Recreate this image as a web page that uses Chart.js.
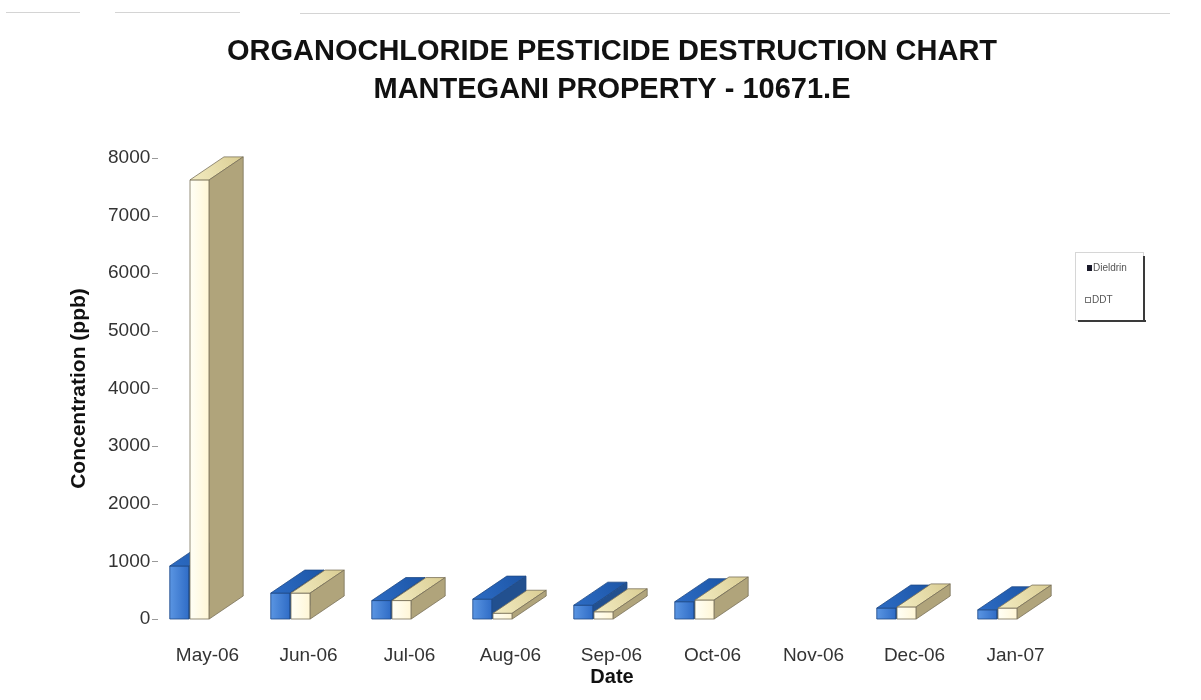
<!DOCTYPE html>
<html>
<head>
<meta charset="utf-8">
<script src="https://cdn.jsdelivr.net/npm/chart.js@4.4.1/dist/chart.umd.min.js"></script>
<style>
  html, body { margin: 0; padding: 0; background: #fff; }
  #wrap { width: 1201px; height: 700px; }
</style>
</head>
<body>
<div id="wrap"><canvas id="pestChart"></canvas></div>
<script>
const months = ['May-06', 'Jun-06', 'Jul-06', 'Aug-06', 'Sep-06', 'Oct-06', 'Nov-06', 'Dec-06', 'Jan-07'];
const dieldrin = [920, 450, 320, 345, 240, 300, null, 190, 160];
const ddt = [7620, 450, 320, 100, 125, 330, null, 210, 190];
const seriesNames = ['Dieldrin', 'DDT'];
const titleLines = ['ORGANOCHLORIDE PESTICIDE DESTRUCTION CHART', 'MANTEGANI PROPERTY - 10671.E'];

const FONT = '"Liberation Sans", Arial, Helvetica, sans-serif';
const DX = 34, DY = -23; // depth of the 3d extrusion

// face colours per series: front, top, side, outline
const faces = [
  { front: ['#5a95e2', '#2f6cc6'], top: ['#2d6cc4', '#1c55a6'], side: '#22508f', edge: '#1f4a86' },
  { front: ['#fffff6', '#fff6d6'], top: ['#f3ecc2', '#d9cc92'], side: '#b0a47b', edge: '#7a7159' }
];

function poly(ctx, pts, fill, edge) {
  ctx.beginPath();
  ctx.moveTo(pts[0][0], pts[0][1]);
  for (let k = 1; k < pts.length; k++) ctx.lineTo(pts[k][0], pts[k][1]);
  ctx.closePath();
  ctx.fillStyle = fill;
  ctx.fill();
  ctx.strokeStyle = edge;
  ctx.lineWidth = 0.8;
  ctx.stroke();
}

const bar3d = {
  id: 'bar3d',
  afterDatasetsDraw(chart) {
    const ctx = chart.ctx;
    ctx.save();
    chart.data.datasets.forEach((ds, i) => {
      const meta = chart.getDatasetMeta(i);
      const c = faces[i];
      meta.data.forEach((bar, j) => {
        if (ds.data[j] == null) return;
        const { x, y, base, width } = bar.getProps(['x', 'y', 'base', 'width'], true);
        const l = x - width / 2, r = x + width / 2;
        const g = ctx.createLinearGradient(l, 0, r, 0);
        g.addColorStop(0, c.front[0]);
        g.addColorStop(1, c.front[1]);
        poly(ctx, [[l, y], [r, y], [r, base], [l, base]], g, c.edge);
        const gt = ctx.createLinearGradient(l, y, r + DX, y + DY);
        gt.addColorStop(0, c.top[0]);
        gt.addColorStop(1, c.top[1]);
        poly(ctx, [[l, y], [r, y], [r + DX, y + DY], [l + DX, y + DY]], gt, c.edge);
        poly(ctx, [[r, y], [r + DX, y + DY], [r + DX, base + DY], [r, base]], c.side, c.edge);
      });
    });
    ctx.restore();
  }
};

const extras = {
  id: 'extras',
  afterDraw(chart) {
    const ctx = chart.ctx;
    const ys = chart.scales.y;
    ctx.save();
    // small tick dashes beside the value labels
    ctx.strokeStyle = '#9a9a9a';
    ctx.lineWidth = 1;
    ys.ticks.forEach(t => {
      const py = Math.round(ys.getPixelForValue(t.value)) + 0.5;
      ctx.beginPath();
      ctx.moveTo(152, py);
      ctx.lineTo(158, py);
      ctx.stroke();
    });
    // faint scan line along the top
    ctx.strokeStyle = '#d4d4d4';
    ctx.beginPath();
    ctx.moveTo(6, 12.5); ctx.lineTo(80, 12.5);
    ctx.moveTo(115, 12.5); ctx.lineTo(240, 12.5);
    ctx.moveTo(300, 13.5); ctx.lineTo(1170, 13.5);
    ctx.stroke();

    // legend box with shadow
    const lx = 1075, ly = 252, lw = 68, lh = 68;
    ctx.strokeStyle = '#d6d6d6';
    ctx.strokeRect(lx + 0.5, ly + 0.5, lw, lh);
    ctx.fillStyle = '#3a3a3a';
    ctx.fillRect(lx + lw, ly + 4, 2, lh - 2);
    ctx.fillRect(lx + 3, ly + lh, lw, 2);
    ctx.font = '10px ' + FONT;
    ctx.textBaseline = 'middle';
    ctx.fillStyle = '#1a1a2a';
    ctx.fillRect(1087, 265, 5, 6);
    ctx.fillStyle = '#555';
    ctx.fillText(seriesNames[0], 1093, 268);
    ctx.strokeStyle = '#777';
    ctx.strokeRect(1085.5, 297.5, 5, 5);
    ctx.fillText(seriesNames[1], 1092, 300);
    ctx.restore();
  }
};

new Chart(document.getElementById('pestChart'), {
  type: 'bar',
  data: {
    labels: months,
    datasets: [
      {
        label: seriesNames[0],
        data: dieldrin,
        backgroundColor: '#3f82d9',
        categoryPercentage: 0.4,
        barPercentage: 0.95
      },
      {
        label: seriesNames[1],
        data: ddt,
        backgroundColor: '#fffcea',
        categoryPercentage: 0.4,
        barPercentage: 0.95
      }
    ]
  },
  options: {
    responsive: true,
    maintainAspectRatio: false,
    animation: false,
    layout: { padding: { left: 58, right: 35, top: 0, bottom: 0 } },
    plugins: {
      legend: { display: false },
      tooltip: { enabled: false },
      title: {
        display: true,
        text: titleLines,
        color: '#111',
        font: { family: FONT, size: 29, weight: 'bold', lineHeight: 1.31 },
        padding: { top: 33, bottom: 49 }
      },
      subtitle: {
        display: true,
        position: 'bottom',
        text: 'Date',
        color: '#111',
        font: { family: FONT, size: 20, weight: 'bold', lineHeight: 1.2 },
        padding: { top: 0, bottom: 11 }
      }
    },
    scales: {
      x: {
        grid: { display: false },
        border: { display: false },
        ticks: {
          color: '#333',
          font: { family: FONT, size: 19 },
          padding: 17,
          labelOffset: 18,
          maxRotation: 0
        },
        afterFit(s) { s.height = 46; }
      },
      y: {
        min: 0,
        max: 8000,
        grid: { display: false, drawTicks: false },
        border: { display: false },
        ticks: {
          stepSize: 1000,
          color: '#333',
          font: { family: FONT, size: 19 },
          mirror: true,
          crossAlign: 'far',
          padding: -31,
          callback: v => String(v)
        },
        title: {
          display: true,
          text: 'Concentration (ppb)',
          color: '#111',
          font: { family: FONT, size: 21, weight: 'bold' },
          padding: { top: 9, bottom: 0 }
        },
        afterFit(s) { s.width = 81; }
      },
      // empty right-hand axis that keeps room for the legend box
      y2: {
        position: 'right',
        display: true,
        grid: { display: false },
        border: { display: false },
        ticks: { display: false },
        afterFit(s) { s.width = 118; }
      }
    }
  },
  plugins: [bar3d, extras]
});
</script>
</body>
</html>
